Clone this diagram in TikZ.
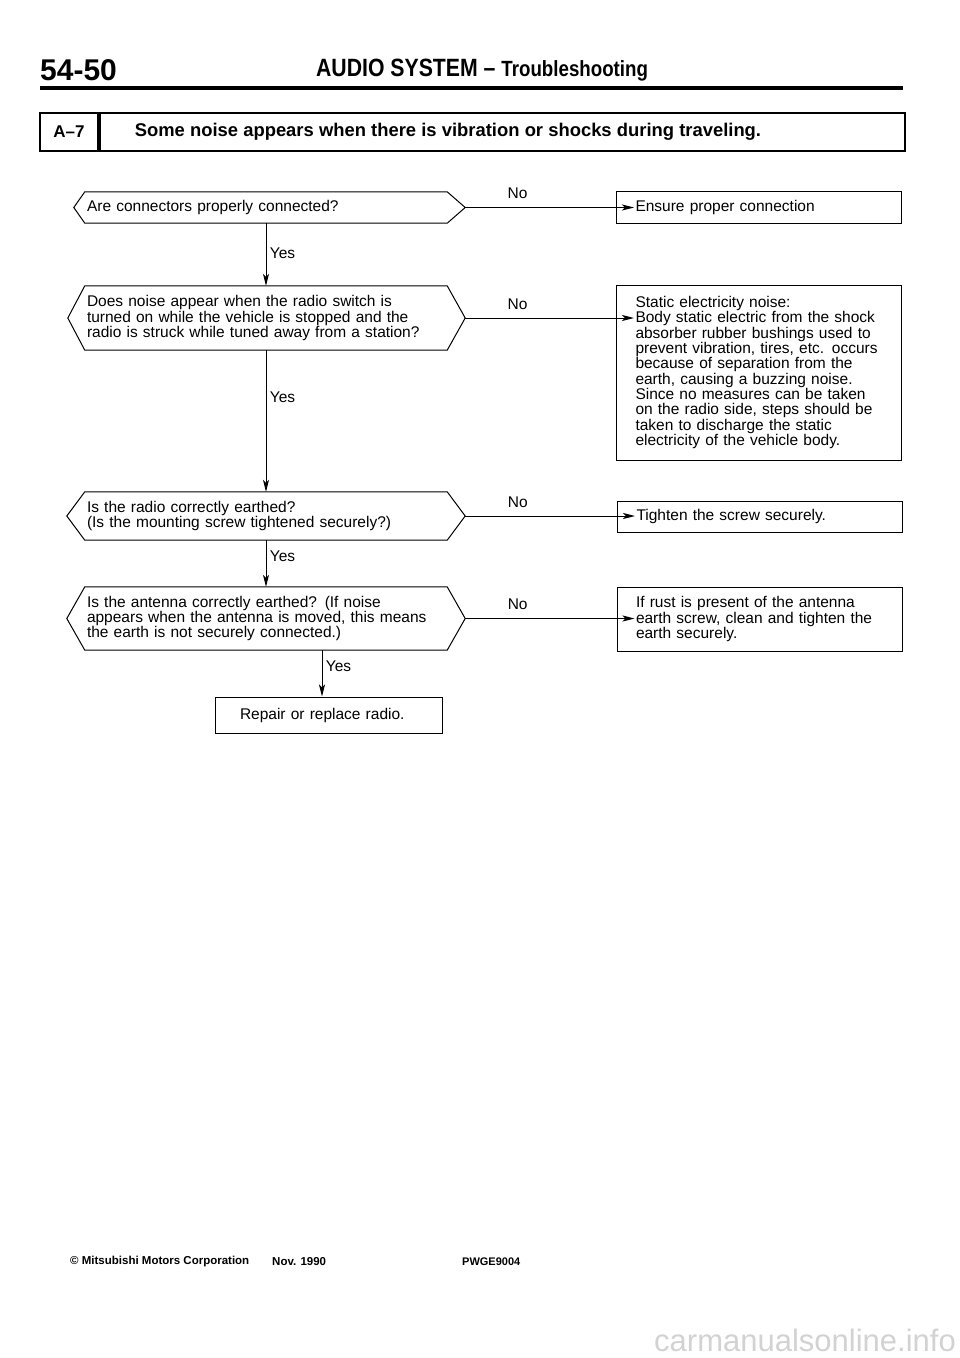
\documentclass[tikz,border=0pt]{standalone}
\usepackage{fontspec}
\setmainfont{Liberation Sans}
\newfontfamily\condfont[FakeStretch=0.85]{Liberation Sans}
\usepackage{tikz}
\usetikzlibrary{arrows.meta,positioning}

% frame of a question: flat top and bottom, pointed ends
\newcommand{\hexframe}[2]{%
  \draw[line width=1pt] (#1.north west) -- (#1.north east) -- ([xshift=18pt]#1.east)
    -- (#1.south east) -- (#1.south west) -- ([xshift=-#2]#1.west) -- cycle;}

\begin{document}
\begin{tikzpicture}[x=1pt,y=-1pt,
  every node/.style={font=\fontsize{15.5}{15.3}\selectfont},
  query/.style={text width=358pt,inner xsep=2pt,inner ysep=0pt,align=left},
  result/.style={draw,line width=1pt,text width=247pt,inner xsep=19pt,inner ysep=0pt,align=left},
  arr/.style={line width=1pt,-{Stealth[length=12pt,width=6pt,inset=3pt]}}]
  \useasboundingbox (0,0) rectangle (960,1358);

  % page head
  \node[anchor=west,inner sep=0pt] (pagenum) at (40,70) {\bfseries\fontsize{30}{30}\selectfont 54-50};
  \node[inner sep=0pt] (head) at (482,70) {\condfont\bfseries\fontsize{25}{25}\selectfont AUDIO SYSTEM – \fontsize{22}{22}\selectfont Troubleshooting};
  \draw[line width=4pt] (40,88) -- (903,88);

  % symptom
  \node[draw,line width=1.8pt,minimum width=58pt,minimum height=38pt,inner sep=0pt] (tnum) at (69,132)
    {\bfseries\fontsize{17}{17}\selectfont A–7};
  \node[draw,line width=1.8pt,anchor=west,minimum height=38pt,text width=735pt,inner xsep=35pt,inner ysep=0pt,align=left] (ttext) at (tnum.east)
    {\bfseries\fontsize{18.4}{18.4}\selectfont Some noise appears when there is vibration or shocks during traveling.};

  % questions
  \node[query,minimum height=31pt] (dec1) at (266,207.5) {Are connectors properly connected?};
  \node[query,minimum height=64pt] (dec2) at (266,318) {Does noise appear when the radio switch is\\
    turned on while the vehicle is stopped and the\\ radio is struck while tuned away from a station?};
  \node[query,minimum height=48pt] (dec3) at (266,516) {Is the radio correctly earthed?\\
    (Is the mounting screw tightened securely?)};
  \node[query,minimum height=63pt] (dec4) at (266,618.5) {Is the antenna correctly earthed? (If noise\\
    appears when the antenna is moved, this means\\ the earth is not securely connected.)};
  \hexframe{dec1}{11pt}
  \hexframe{dec2}{17pt}
  \hexframe{dec3}{18pt}
  \hexframe{dec4}{18pt}

  % remedies
  \node[result,minimum height=32pt] (ok1) at (759,207) {Ensure proper connection};
  \node[result,minimum height=175pt] (ok2) at (759,372.5) {Static electricity noise:\\
    Body static electric from the shock\\ absorber rubber bushings used to\\
    prevent vibration, tires, etc. occurs\\ because of separation from the\\
    earth, causing a buzzing noise.\\ Since no measures can be taken\\
    on the radio side, steps should be\\ taken to discharge the static\\
    electricity of the vehicle body.};
  \node[result,minimum height=31pt] (ok3) at (760,516.5) {Tighten the screw securely.};
  \node[result,minimum height=64pt] (ok4) at (759.5,619) {If rust is present of the antenna\\
    earth screw, clean and tighten the\\ earth securely.};
  \node[draw,line width=1pt,minimum width=227pt,minimum height=36pt,text width=177pt,inner xsep=25pt,inner ysep=0pt,align=left] (repair) at (328.5,715)
    {Repair or replace radio.};

  % yes branches
  \draw[arr] (dec1.south) -- node[right,pos=0.48] {Yes} (dec2.north);
  \draw[arr] (dec2.south) -- node[right,pos=0.33] {Yes} (dec3.north);
  \draw[arr] (dec3.south) -- node[right,pos=0.35] {Yes} (dec4.north);
  \draw[arr] ([xshift=56pt]dec4.south) -- node[right,pos=0.35] {Yes} ([xshift=56pt]dec4.south |- repair.north);

  % no branches
  \draw[arr] ([xshift=18pt]dec1.east) -- node[above=5pt,pos=0.31] {No} ([xshift=18pt]dec1.east -| ok1.west);
  \draw[arr] ([xshift=18pt]dec2.east) -- node[above=5pt,pos=0.31] {No} ([xshift=18pt]dec2.east -| ok2.west);
  \draw[arr] ([xshift=18pt]dec3.east) -- node[above=5pt,pos=0.31] {No} ([xshift=18pt]dec3.east -| ok3.west);
  \draw[arr] ([xshift=18pt]dec4.east) -- node[above=5pt,pos=0.31] {No} ([xshift=18pt]dec4.east -| ok4.west);

  % page foot
  \node[anchor=west,inner sep=0pt] (maker) at (70,1262) {\bfseries\fontsize{11.5}{11.5}\selectfont © Mitsubishi Motors Corporation};
  \node[anchor=west,inner sep=0pt] (issued) at (272,1262) {\bfseries\fontsize{11.5}{11.5}\selectfont Nov. 1990};
  \node[anchor=west,inner sep=0pt] (code) at (462,1262) {\bfseries\fontsize{11}{11}\selectfont PWGE9004};
  \node[anchor=east,inner sep=0pt,text=gray!35] (mark) at (956,1340) {\fontsize{31}{31}\selectfont carmanualsonline.info};
\end{tikzpicture}
\end{document}
